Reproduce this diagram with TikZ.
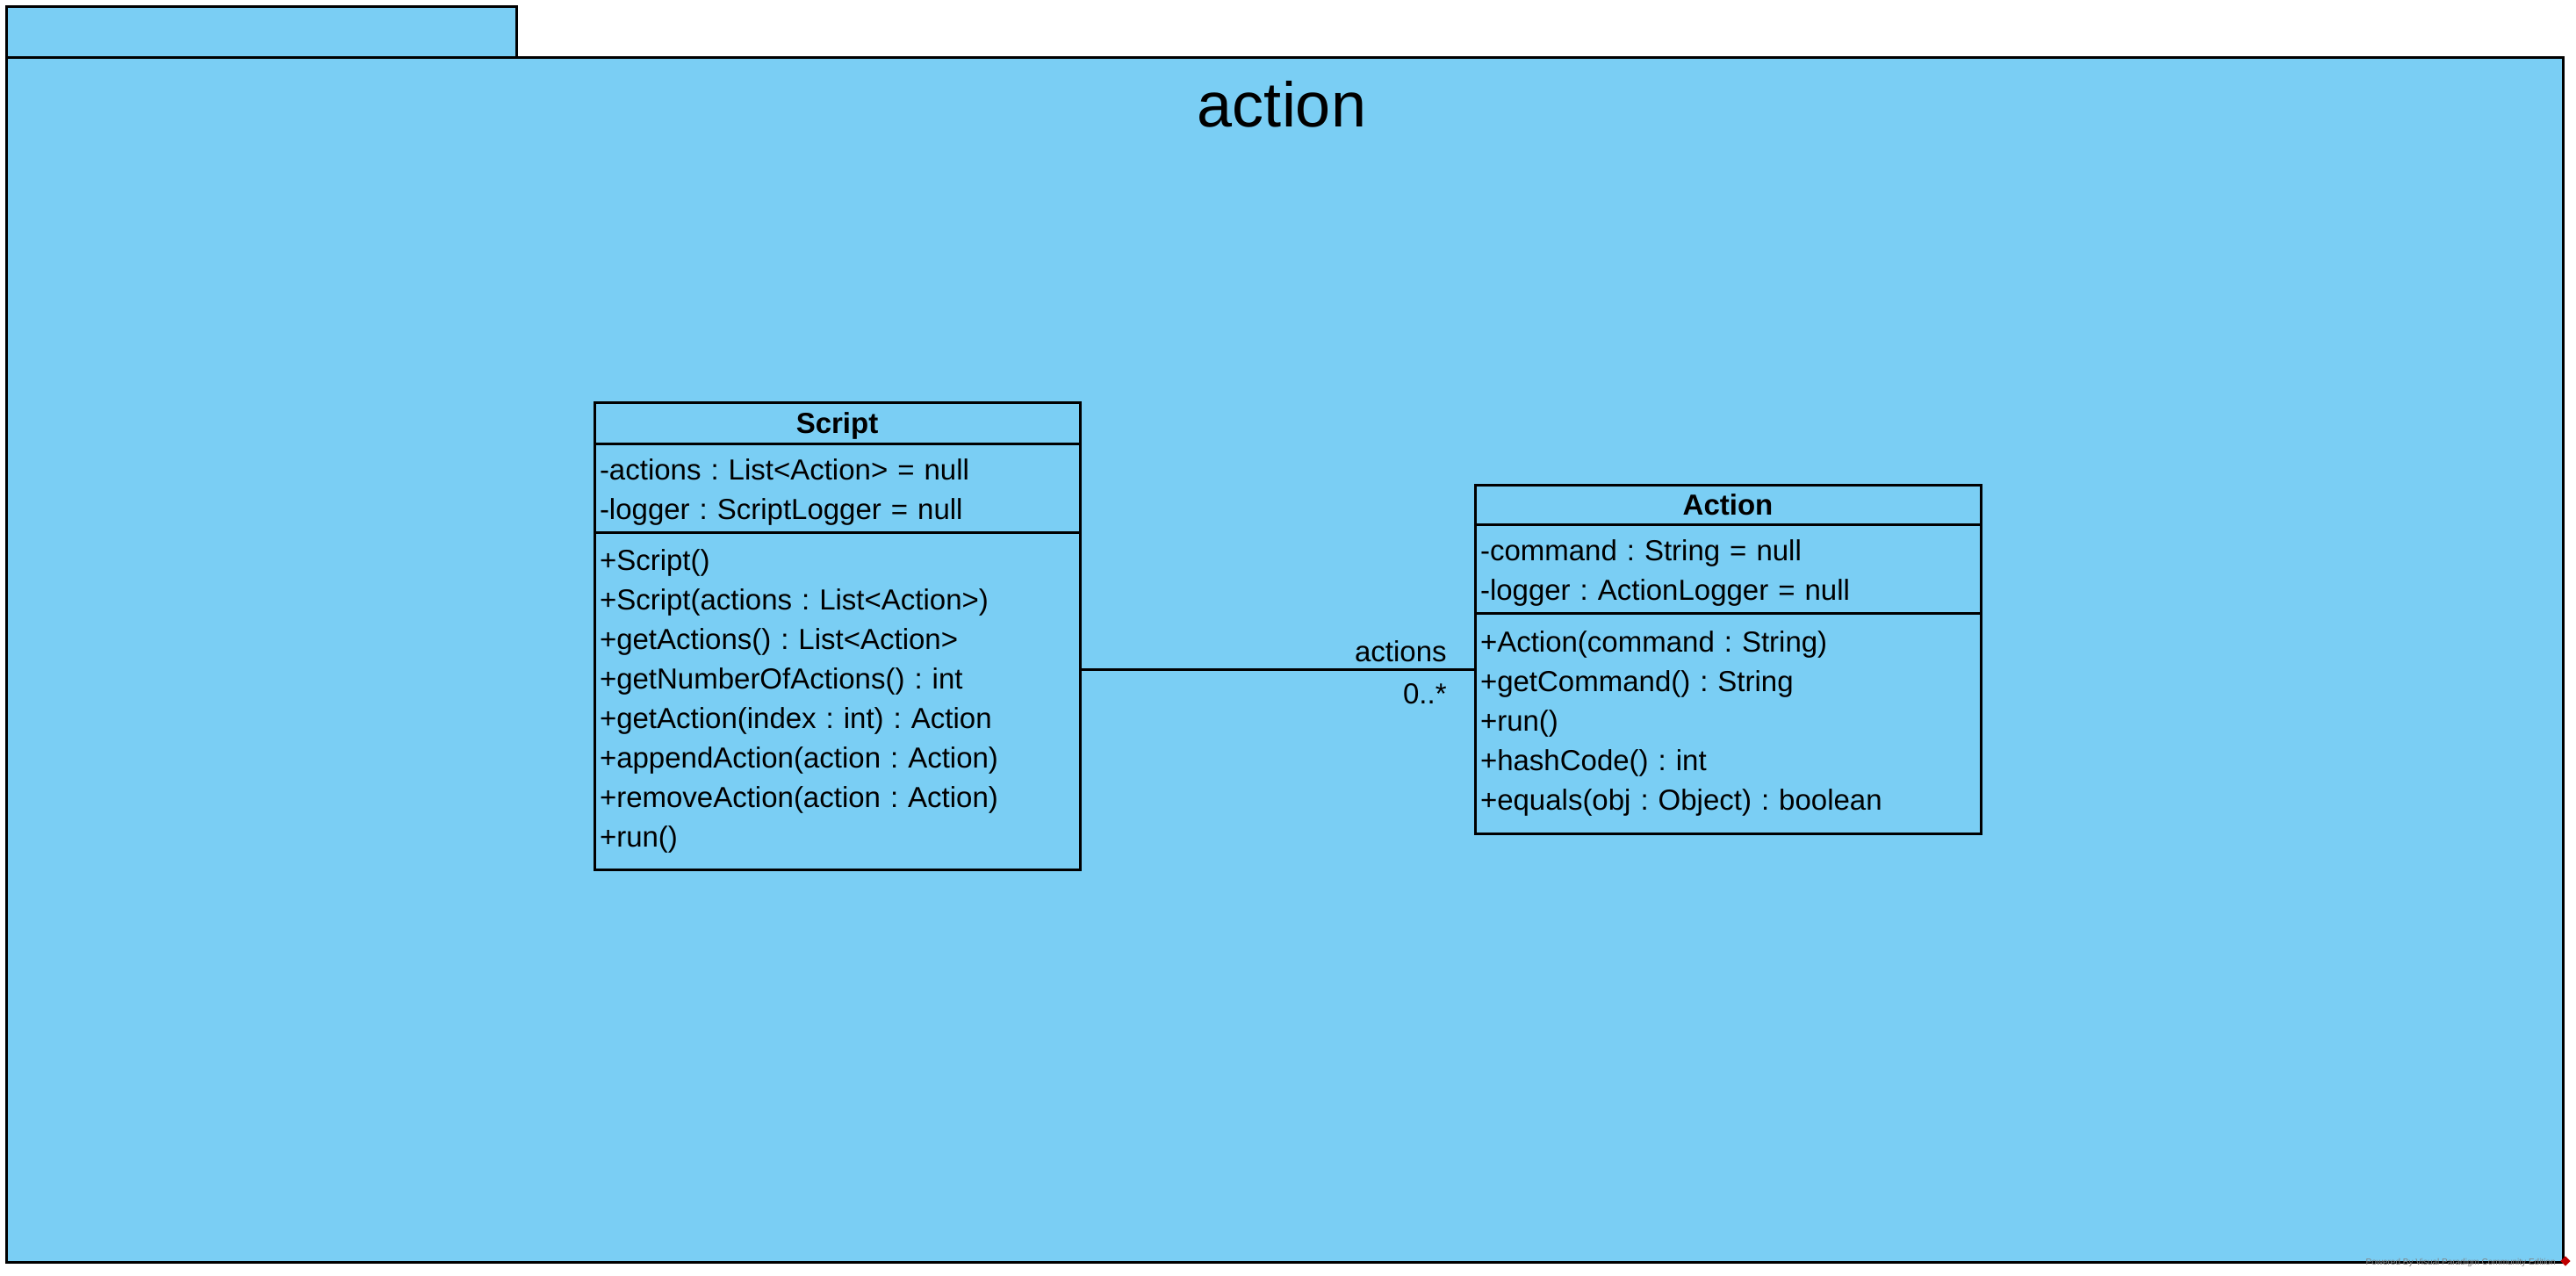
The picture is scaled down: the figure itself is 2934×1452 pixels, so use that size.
\documentclass[tikz,border=0pt]{standalone}
\usepackage{fontspec}
\setmainfont{Liberation Sans}
\usepackage{xcolor}
\usetikzlibrary{positioning}
\frenchspacing
\definecolor{pkgblue}{RGB}{122,206,244}
\tikzstyle{package} = [rectangle, draw=black, line width=1.5pt, fill=pkgblue, inner sep=0pt, outer sep=0pt]
\tikzstyle{classhead} = [rectangle, draw=black, line width=1.5pt, fill=pkgblue, inner sep=0pt, outer sep=0pt, align=center, text height=12pt, text depth=0pt, font=\bfseries\fontsize{16.5}{22.5}\selectfont]
\tikzstyle{classbody} = [rectangle, draw=black, line width=1.5pt, fill=pkgblue, inner xsep=3pt, inner ysep=0pt, outer sep=0pt, align=left, font=\fontsize{16.5}{22.5}\selectfont]
\tikzstyle{assocline} = [line width=1.5pt]
\tikzstyle{role} = [inner sep=0pt, font=\fontsize{16.5}{22.5}\selectfont]

\begin{document}
\begin{tikzpicture}[x=0.5pt, y=-0.5pt]
\useasboundingbox (0,0) rectangle (2934,1452);
% package frame
\node (main) [package, anchor=north west, minimum width=1456pt, minimum height=686pt] at (7,65) {};
\node (tab) [package, above right=0pt of main.north west, minimum width=290.5pt, minimum height=29pt] {};
\node (title) [anchor=base, inner sep=0pt, font=\fontsize{36}{40}\selectfont] at (1460,144) {action};

% class Script
\node (scripthead) [classhead, anchor=north west, minimum width=276.5pt, minimum height=23.5pt] at (677,458) {Script};
\node (scriptattr) [classbody, text width=270.5pt, text height=16.5pt, minimum height=50.5pt, below=0pt of scripthead] {-actions : List<Action> = null\\-logger : ScriptLogger = null};
\node (scriptops) [classbody, text width=270.5pt, minimum height=192pt, below=0pt of scriptattr] {+Script()\\+Script(actions : List<Action>)\\+getActions() : List<Action>\\+getNumberOfActions() : int\\+getAction(index : int) : Action\\+appendAction(action : Action)\\+removeAction(action : Action)\\+run()};

% class Action
\node (actionhead) [classhead, anchor=north west, minimum width=288pt, minimum height=22.5pt] at (1680,552) {Action};
\node (actionattr) [classbody, text width=282pt, text height=16.5pt, minimum height=50.5pt, below=0pt of actionhead] {-command : String = null\\-logger : ActionLogger = null};
\node (actionops) [classbody, text width=282pt, minimum height=125.5pt, below=0pt of actionattr] {+Action(command : String)\\+getCommand() : String\\+run()\\+hashCode() : int\\+equals(obj : Object) : boolean};

% association
\coordinate (assoc) at (1456,762);
\draw [assocline] (scriptops.east |- assoc) -- (actionops.west |- assoc);
\node (rolename) [role, anchor=base east] at (1648,753) {actions};
\node (multiplicity) [role, anchor=base east] at (1648,801) {0..*};

% watermark
\node (powered) [anchor=base east, inner sep=0pt, text=gray, font=\fontsize{5}{6}\selectfont] at (2911,1440) {Powered By Visual Paradigm Community Edition};
\node (vplogo) [fill=red!75!black, rotate=45, minimum size=4pt, inner sep=0pt] at (2922,1436) {};
\end{tikzpicture}
\end{document}
